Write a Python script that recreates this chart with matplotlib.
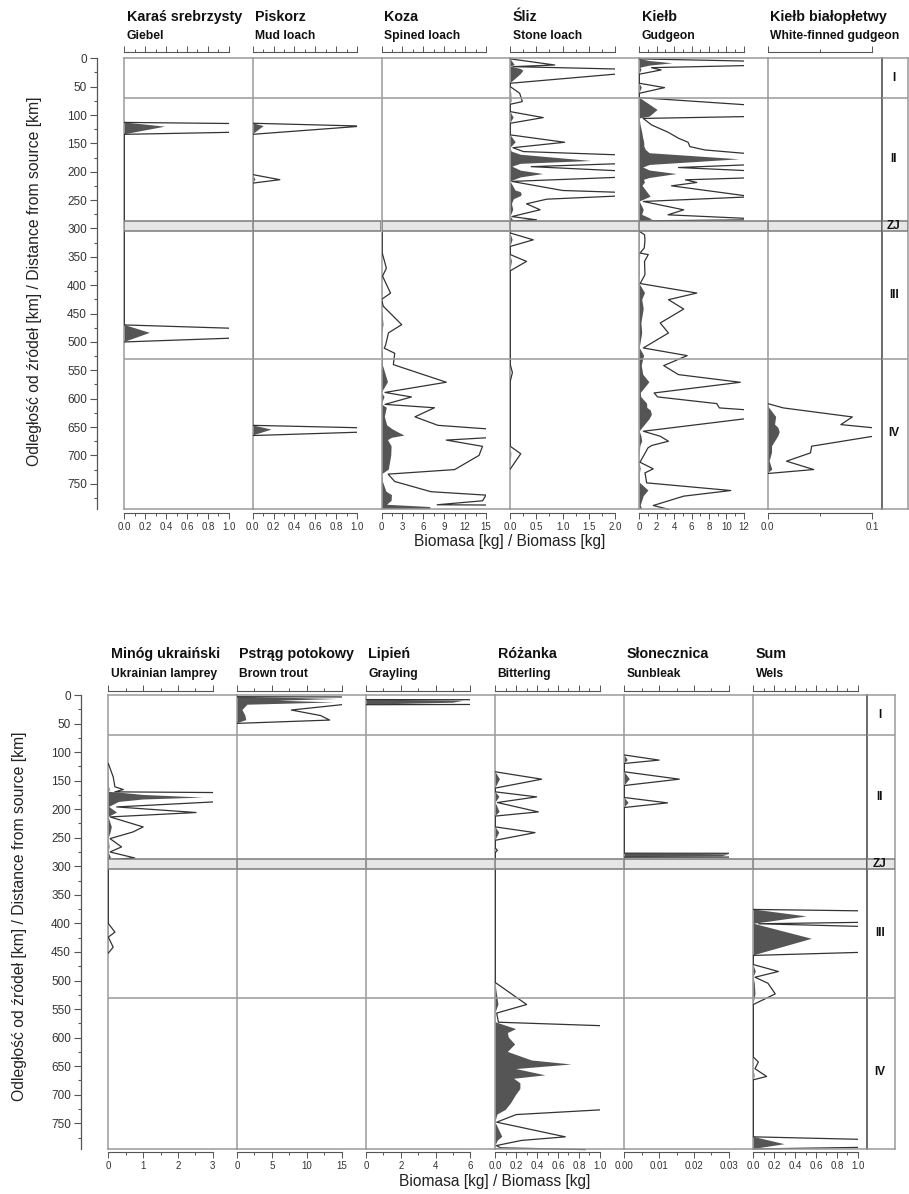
import numpy as np
import matplotlib
matplotlib.use("Agg")
import matplotlib.pyplot as plt
from matplotlib.patches import Rectangle

# ---------------------------------------------------------------- data
zone_I_II = 70
zone_III_IV = 530
zj_top, zj_bottom = 287, 305
zone_labels = ["I", "II", "ZJ", "III", "IV"]
zone_label_km = [35, 178, 296, 417, 661]
y_major = list(range(0, 800, 50))
y_minor = list(range(25, 800, 50))

# --- upper chart
top_titles_pl = ["Karaś srebrzysty", "Piskorz", "Koza", "Śliz", "Kiełb", "Kiełb białopłetwy"]
top_titles_en = ["Giebel", "Mud loach", "Spined loach", "Stone loach", "Gudgeon", "White-finned gudgeon"]

giebel_km = [113, 120.5, 134, 470, 484, 500]
giebel_kg = [0, 0.39, 0, 0, 0.245, 0]

mudloach_km = [114.5, 119.5, 134, 205, 214, 220, 647, 654.5, 665]
mudloach_kg = [0, 0.105, 0, 0, 0.026, 0, 0, 0.18, 0]

spined_km = [305, 308, 343, 361, 370, 384, 414, 425, 437, 469.5, 484, 505, 511, 520, 540,
             571, 589, 597, 610, 616, 632, 647, 654, 660, 665, 669, 673, 684, 700, 725,
             733, 746, 764, 770, 780, 787, 791, 795]
spined_kg = [0, 0.01, 0.01, 0.05, 0.07, 0.015, 0.13, 0, 0.025, 0.29, 0.1, 0.06, 0.04, 0.19, 0.17,
             0.93, 0.05, 0.43, 0.05, 0.76, 0.48, 0.81, 1.6, 2.5, 3.3, 1.5, 0.93, 1.45, 1.4, 1.05,
             0.095, 0.19, 0.71, 1.5, 1.45, 0.8, 7.0, 7.0]

stone_km = [1, 11.8, 14.7, 18.8, 22, 28, 44, 50, 61.7, 76.3, 81, 94, 104.5, 114.5, 135, 148,
            157.6, 164.4, 170, 181, 186, 191, 198, 204, 210, 217, 233, 236, 240, 243, 248.3,
            256.5, 267, 279, 284.7, 287, 308, 320, 331.6, 346, 358, 374.5, 540, 554, 569,
            684, 697, 724]
stone_kg = [0, 0.085, 0.005, 0.2, 0.25, 0.2, 0, 0, 0.018, 0.023, 0, 0, 0.063, 0, 0, 0.104,
            0.005, 0.025, 0.2, 1.55, 0.2, 0.04, 0.2, 0.63, 0.2, 0.003, 0.1, 0.2, 0.22, 0.2, 0.07,
            0.031, 0.057, 0.003, 0.05, 0, 0, 0.044, 0, 0, 0.031, 0, 0, 0.004, 0,
            0, 0.02, 0]

gudgeon_km = [1, 4.8, 8.8, 12.9, 16.5, 20.6, 28, 44, 51.7, 61.7, 69.3, 91, 102.8, 106, 117.4,
              130.3, 140.9, 148, 155.6, 161.5, 167.3, 178, 188, 192.5, 197.8, 204, 211, 214.2,
              218.9, 224.8, 244, 252.4, 267.1, 275.9, 282, 284.5, 286.5,
              305, 311, 320, 334.5, 343.3, 346, 358, 381.5, 397, 413.8, 425.5, 442, 466.6,
              484.2, 510.6, 524.1, 541.7, 557.6, 571.1, 589.9, 596.9, 608.7, 616.3, 620.4, 628,
              635.7, 657.4, 666.2, 675, 682.6, 686.7, 712, 723.7, 730.8, 748.4, 761.9, 771.8,
              788.3, 795]
gudgeon_kg = [0, 1.2, 3.8, 1.2, 0.14, 0.25, 0, 0, 0.29, 0, 0, 2.1, 1.2, 0.045, 0.14,
              0.33, 0.45, 0.56, 0.58, 0.75, 1.19, 11.5, 1.2, 0.45, 1.2, 4.3, 1.2, 0.53,
              0.66, 0.37, 1.3, 0.046, 0.51, 0.33, 1.2, 1.5, 0,
              0, 0.06, 0.065, 0.057, 0.008, 0.103, 0.06, 0.065, 0.01, 0.66, 0.335, 0.51, 0.24,
              0.335, 0.046, 0.55, 0.28, 0.45, 1.16, 0.17, 0.21, 0.89, 0.92, 1.3, 1.45,
              1.2, 0.046, 0.24, 0.335, 0.14, 0.10, 0.008, 0.16, 0.065, 0.085, 1.05, 0.51,
              0.16, 0.335]

whitefin_km = [608.7, 616.3, 632.2, 645.7, 651.5, 659, 666.2, 683.8, 695.5, 710.2, 724.9, 731.9]
whitefin_kg = [0, 0.0015, 0.0081, 0.007, 0.0102, 0.0115, 0.0101, 0.0042, 0.0041, 0.0018, 0.0044, 0]

# --- lower chart
bot_titles_pl = ["Minóg ukraiński", "Pstrąg potokowy", "Lipień", "Różanka", "Słonecznica", "Sum"]
bot_titles_en = ["Ukrainian lamprey", "Brown trout", "Grayling", "Bitterling", "Sunbleak", "Wels"]

lamprey_km = [120, 143.3, 160.8, 165.5, 169.6, 170.8, 175, 179.6, 183, 187.3, 196, 205.8, 213.5,
              231, 239.8, 251.5, 266, 274.9, 285.4, 288.3, 400, 415.2, 424, 441.5, 452]
lamprey_kg = [0, 0.014, 0.019, 0.043, 0.019, 0.3, 1.0, 2.73, 1.0, 0.3, 0.024, 0.252, 0.005,
              0.1, 0.071, 0.005, 0.038, 0.005, 0.076, 0, 0, 0.019, 0, 0.014, 0]

trout_km = [3, 7, 10, 13, 17, 26.3, 36, 43.9, 49.7]
trout_kg = [0, 14.5, 6, 14, 1.5, 0.78, 1.2, 1.33, 0]

grayling_km = [8, 10, 13.5, 17]
grayling_kg = [0, 5.6, 5.0, 0]

bitterling_km = [134.5, 147.4, 163, 169.6, 178.4, 188.3, 204.7, 212, 231, 241, 254.4, 268, 272, 276,
                 503.5, 542, 557, 573, 579, 585, 592, 600, 612, 625, 640, 647, 655, 666, 672,
                 680, 690, 700, 715, 726.5, 734.7, 748, 773.7, 780, 789, 793, 796]
bitterling_kg = [0, 0.0444, 0, 0, 0.0396, 0.002, 0.0412, 0, 0, 0.038, 0, 0, 0.002, 0,
                 0, 0.03, 0.0013, 0.003, 0.1, 0.2, 0.12, 0.13, 0.19, 0.12, 0.35, 0.73, 0.2, 0.48, 0.18,
                 0.24, 0.24, 0.2, 0.15, 0.1, 0.02, 0.0013, 0.067, 0.025, 0.001, 0.005, 0.086]

sunbleak_km = [105, 114, 119.9, 134.5, 147.4, 158.5, 179.5, 188.9, 197, 277, 279, 282.5, 284]
sunbleak_kg = [0, 0.001, 0, 0, 0.00158, 0, 0, 0.00124, 0, 0, 0.03, 0.028, 0]

wels_km = [375.5, 387.7, 400.6, 426.9, 456, 472, 484.2, 494.2, 504.7, 523.4, 542,
           634, 642.7, 654.4, 668, 673.8, 773.7, 786.6, 795]
wels_kg = [0, 0.51, 0.005, 0.56, 0, 0, 0.024, 0.0016, 0.014, 0.021, 0,
           0, 0.0048, 0.0016, 0.0128, 0, 0, 0.30, 0]

# axis maxima, ticks and tick labels
top_max = [1.0, 1.0, 15, 2.0, 12, 0.1]
top_major = [[0, .2, .4, .6, .8, 1.0], [0, .2, .4, .6, .8, 1.0], [0, 3, 6, 9, 12, 15],
             [0, .5, 1.0, 1.5, 2.0], [0, 2, 4, 6, 8, 10, 12], [0, 0.1]]
top_labels = [["0.0", "0.2", "0.4", "0.6", "0.8", "1.0"], ["0.0", "0.2", "0.4", "0.6", "0.8", "1.0"],
              ["0", "3", "6", "9", "12", "15"], ["0.0", "0.5", "1.0", "1.5", "2.0"],
              ["0", "2", "4", "6", "8", "10", "12"], ["0.0", "0.1"]]
top_minor = [[.1, .3, .5, .7, .9], [.1, .3, .5, .7, .9], [1.5, 4.5, 7.5, 10.5, 13.5],
             [.25, .75, 1.25, 1.75], [1, 3, 5, 7, 9, 11], [0.05]]

bot_max = [3, 15, 6, 1.0, 0.03, 1.0]
bot_major = [[0, 1, 2, 3], [0, 5, 10, 15], [0, 2, 4, 6], [0, .2, .4, .6, .8, 1.0],
             [0, 0.01, 0.02, 0.03], [0, .2, .4, .6, .8, 1.0]]
bot_labels = [["0", "1", "2", "3"], ["0", "5", "10", "15"], ["0", "2", "4", "6"],
              ["0.0", "0.2", "0.4", "0.6", "0.8", "1.0"], ["0.00", "0.01", "0.02", "0.03"],
              ["0.0", "0.2", "0.4", "0.6", "0.8", "1.0"]]
bot_minor = [[.5, 1.5, 2.5], [2.5, 7.5, 12.5], [1, 3, 5], [.1, .3, .5, .7, .9],
             [0.005, 0.015, 0.025], [.1, .3, .5, .7, .9]]

top_data = [(giebel_km, giebel_kg), (mudloach_km, mudloach_kg), (spined_km, spined_kg),
            (stone_km, stone_kg), (gudgeon_km, gudgeon_kg), (whitefin_km, whitefin_kg)]
bot_data = [(lamprey_km, lamprey_kg), (trout_km, trout_kg), (grayling_km, grayling_kg),
            (bitterling_km, bitterling_kg), (sunbleak_km, sunbleak_kg), (wels_km, wels_kg)]

y_label = "Odległość od źródeł [km] / Distance from source [km]"
x_label = "Biomasa [kg] / Biomass [kg]"

# ---------------------------------------------------------------- style
EXAG = 10
YMAX = 795
DATA_W = 104.5
W, H = 909, 1194
FILL = "#555555"
LINE = "#333333"
GRID = "#9a9a9a"
GRID_D = "#7a7a7a"
BAND = "#e6e6e6"
FONT = "Liberation Sans"

plt.rcParams["font.family"] = [FONT, "DejaVu Sans"]

fig = plt.figure(figsize=(W / 100, H / 100), dpi=100)


def px_axes(x0, y0, x1, y1):
    return fig.add_axes([x0 / W, 1 - y1 / H, (x1 - x0) / W, (y1 - y0) / H])


def zone_decor(ax):
    kw = dict(color=GRID, lw=1.1, zorder=5)
    ax.axhline(zone_I_II, **kw)
    ax.axhline(zone_III_IV, **kw)
    ax.axhline(0, clip_on=False, **kw)
    ax.axhline(YMAX, clip_on=False, **kw)
    ax.axhspan(zj_top, zj_bottom, facecolor=BAND, edgecolor=GRID_D, lw=1.1, zorder=5)


def chart(lefts, right_end, zone_right, y0, y1, yaxis_x, data, maxima, majors, labels,
          minors, t_pl, t_en, off_top, off_bot, pl_base, en_base, ylab_x, ylab_y,
          xlab_x, xlab_y):
    for i in range(6):
        x0 = lefts[i]
        x1 = lefts[i + 1] if i < 5 else right_end
        km, kg = data[i]
        vmax = maxima[i]
        ax = px_axes(x0, y0, x1, y1)
        ax.set_xlim(0, vmax * (x1 - x0) / DATA_W)
        ax.set_ylim(YMAX, 0)
        ax.patch.set_alpha(0)
        ax.fill_betweenx(km, 0, kg, facecolor=FILL, lw=0, zorder=2)
        ln, = ax.plot(np.asarray(kg) * EXAG, km, color=LINE, lw=0.9, zorder=3,
                      solid_joinstyle="round")
        ln.set_clip_path(Rectangle((0, -50), vmax, YMAX + 100, transform=ax.transData))
        zone_decor(ax)
        ax.spines["right"].set_visible(False)
        ax.spines["left"].set_color(GRID)
        ax.spines["left"].set_linewidth(1.1)
        for side, off in (("top", off_top), ("bottom", off_bot)):
            sp = ax.spines[side]
            sp.set_bounds(0, vmax)
            sp.set_position(("outward", off))
            sp.set_color("#555555")
            sp.set_linewidth(0.8)
        ax.set_xticks(majors[i])
        ax.set_xticklabels(labels[i])
        ax.set_xticks(minors[i], minor=True)
        ax.tick_params(axis="x", which="major", direction="out", length=4.5, width=0.7,
                       colors="#555555", labelcolor="#333333", labelsize=7, pad=2.5,
                       top=True, bottom=True, labeltop=False)
        ax.tick_params(axis="x", which="minor", direction="out", length=2.2, width=0.7,
                       colors="#555555", top=True, bottom=True)
        ax.tick_params(axis="y", left=False, labelleft=False)
        fig.text((x0 + 2.3) / W, 1 - pl_base / H, t_pl[i], fontsize=10.3, weight="bold",
                 color="#111111", ha="left", va="baseline")
        fig.text((x0 + 2.3) / W, 1 - en_base / H, t_en[i], fontsize=8.7, weight="bold",
                 color="#111111", ha="left", va="baseline")

    # zone column
    az = px_axes(right_end, y0, zone_right, y1)
    az.set_xlim(0, 1)
    az.set_ylim(YMAX, 0)
    az.patch.set_alpha(0)
    zone_decor(az)
    az.set_xticks([])
    az.set_yticks([])
    az.spines["top"].set_visible(False)
    az.spines["bottom"].set_visible(False)
    az.spines["left"].set_color("#606060")
    az.spines["left"].set_linewidth(1.3)
    az.spines["right"].set_color(GRID)
    az.spines["right"].set_linewidth(1.1)
    for lab, k in zip(zone_labels, zone_label_km):
        az.text(0.45, k, lab, ha="center", va="center", fontsize=8.5, weight="bold",
                color="#111111", zorder=6)

    # depth axis
    ay = px_axes(yaxis_x, y0, yaxis_x + 0.5, y1)
    ay.set_ylim(YMAX, 0)
    ay.patch.set_alpha(0)
    for s in ("top", "bottom", "right"):
        ay.spines[s].set_visible(False)
    ay.spines["left"].set_color("#555555")
    ay.spines["left"].set_linewidth(0.9)
    ay.set_xticks([])
    ay.set_yticks(y_major)
    ay.set_yticklabels([str(v) for v in y_major])
    ay.set_yticks(y_minor, minor=True)
    ay.tick_params(axis="y", which="major", direction="out", length=5, width=0.8,
                   colors="#555555", labelcolor="#333333", labelsize=8.5, pad=2)
    ay.tick_params(axis="y", which="minor", direction="out", length=2.5, width=0.8,
                   colors="#555555")
    fig.text(ylab_x / W, 1 - ylab_y / H, y_label, rotation=90, ha="center", va="center",
             fontsize=11.3, color="#222222")
    fig.text(xlab_x / W, 1 - xlab_y / H, x_label, ha="center", va="center",
             fontsize=11.2, color="#222222")


chart([124.3, 252.7, 381.5, 510.3, 639.3, 767.7], 882.0, 908.0, 58.3, 509.3, 96.7,
      top_data, top_max, top_major, top_labels, top_minor, top_titles_pl, top_titles_en,
      4.7, 2.4, 20.7, 39.3, 35, 281.5, 510, 541.7)

chart([108.3, 237.0, 366.0, 495.3, 624.3, 753.3], 867.3, 895.0, 695.0, 1149.0, 80.7,
      bot_data, bot_max, bot_major, bot_labels, bot_minor, bot_titles_pl, bot_titles_en,
      2.9, 1.9, 657.7, 676.7, 20, 916, 495, 1181.7)

fig.savefig("out.png", dpi=100, facecolor="white")
